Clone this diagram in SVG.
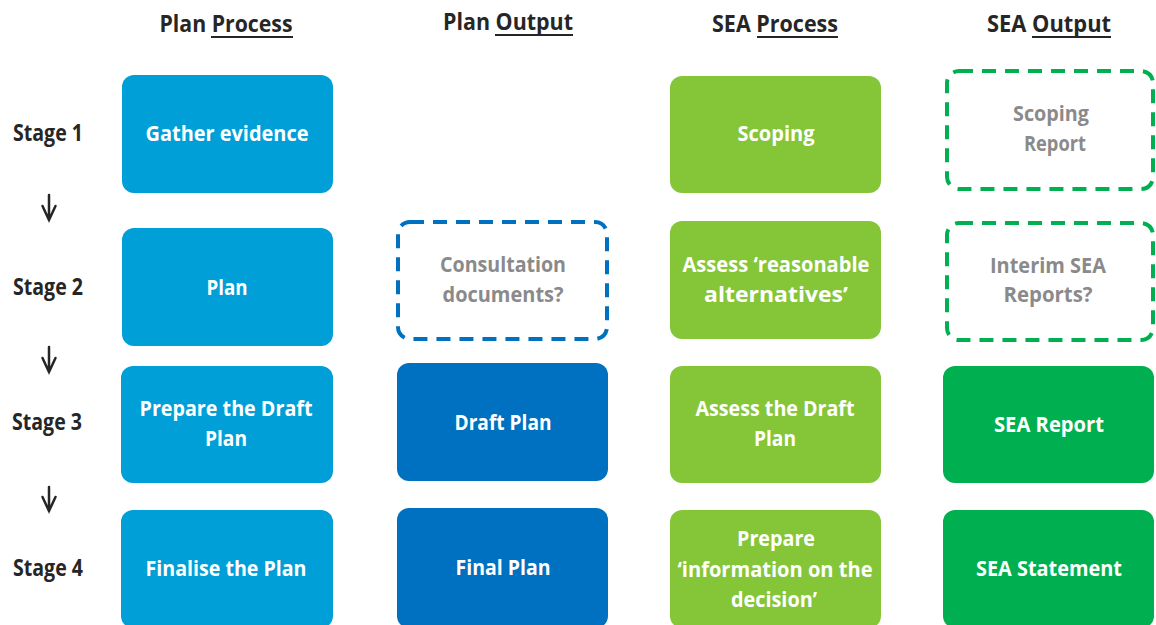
<svg xmlns="http://www.w3.org/2000/svg" width="1156" height="625" viewBox="0 0 1156 625">
  <style>
    text { font-family: "Open Sans", "Liberation Sans", sans-serif; font-weight: bold; font-size: 22px; text-anchor: middle; font-variant-ligatures: none; }
    .hdr { fill: #262626; font-size: 23px; }
    .stage { fill: #262626; font-size: 23px; }
    .w { fill: #ffffff; }
    .g { fill: #8a8a8a; }
    .c1 { fill: #009fd7; }
    .c2 { fill: #0070c0; }
    .c3 { fill: #85c638; }
    .c4 { fill: #00b050; }
    .dashB { fill: #ffffff; stroke: #0070c0; stroke-width: 4; stroke-dasharray: 14 9; }
    .dashG { fill: #ffffff; stroke: #00b050; stroke-width: 4; stroke-dasharray: 14 9; }
    .ul { stroke: #262626; stroke-width: 2; }
    .arrow { fill: none; stroke: #262626; stroke-width: 2.5; stroke-linecap: round; stroke-linejoin: miter; }
  </style>

  <!-- column headings -->
  <g id="headings">
    <text class="hdr" x="226" y="32" textLength="133" lengthAdjust="spacingAndGlyphs">Plan Process</text>
    <line class="ul" x1="211" y1="37" x2="293" y2="37"/>
    <text class="hdr" x="508" y="30" textLength="130" lengthAdjust="spacingAndGlyphs">Plan Output</text>
    <line class="ul" x1="495" y1="35" x2="573" y2="35"/>
    <text class="hdr" x="775" y="32" textLength="126" lengthAdjust="spacingAndGlyphs">SEA Process</text>
    <line class="ul" x1="757" y1="37" x2="838" y2="37"/>
    <text class="hdr" x="1049" y="32" textLength="124" lengthAdjust="spacingAndGlyphs">SEA Output</text>
    <line class="ul" x1="1032" y1="37" x2="1111" y2="37"/>
  </g>

  <!-- stage labels -->
  <g id="stages">
    <text class="stage" x="48" y="141" textLength="70" lengthAdjust="spacingAndGlyphs">Stage 1</text>
    <text class="stage" x="48" y="295" textLength="70" lengthAdjust="spacingAndGlyphs">Stage 2</text>
    <text class="stage" x="47" y="430" textLength="70" lengthAdjust="spacingAndGlyphs">Stage 3</text>
    <text class="stage" x="48" y="576" textLength="70" lengthAdjust="spacingAndGlyphs">Stage 4</text>
  </g>

  <!-- stage-to-stage arrows -->
  <g id="connectors">
    <path class="arrow" d="M49 195 V220 M42.5 206 L49 220 L55.5 206"/>
    <path class="arrow" d="M49 347 V372 M42.5 358 L49 372 L55.5 358"/>
    <path class="arrow" d="M49 487 V511 M42.5 497 L49 511 L55.5 497"/>
  </g>

  <!-- Plan Process -->
  <g id="gather-evidence">
    <rect class="c1" x="122" y="75" width="211" height="118" rx="12"/>
    <text class="w" x="227" y="141" textLength="163" lengthAdjust="spacingAndGlyphs">Gather evidence</text>
  </g>
  <g id="plan">
    <rect class="c1" x="122" y="228" width="211" height="118" rx="12"/>
    <text class="w" x="227" y="295" textLength="41" lengthAdjust="spacingAndGlyphs">Plan</text>
  </g>
  <g id="prepare-draft-plan">
    <rect class="c1" x="121" y="366" width="212" height="117" rx="12"/>
    <text class="w" x="226" y="416" textLength="173" lengthAdjust="spacingAndGlyphs">Prepare the Draft</text>
    <text class="w" x="226" y="446" textLength="42" lengthAdjust="spacingAndGlyphs">Plan</text>
  </g>
  <g id="finalise-plan">
    <rect class="c1" x="121" y="510" width="212" height="118" rx="12"/>
    <text class="w" x="226" y="576" textLength="161" lengthAdjust="spacingAndGlyphs">Finalise the Plan</text>
  </g>

  <!-- Plan Output -->
  <g id="consultation-documents">
    <rect class="dashB" x="398" y="222" width="209" height="117" rx="12"/>
    <text class="g" x="503" y="272" textLength="126" lengthAdjust="spacingAndGlyphs">Consultation</text>
    <text class="g" x="503" y="302" textLength="121" lengthAdjust="spacingAndGlyphs">documents?</text>
  </g>
  <g id="draft-plan">
    <rect class="c2" x="397" y="363" width="211" height="118" rx="12"/>
    <text class="w" x="503" y="430" textLength="97" lengthAdjust="spacingAndGlyphs">Draft Plan</text>
  </g>
  <g id="final-plan">
    <rect class="c2" x="397" y="508" width="211" height="120" rx="12"/>
    <text class="w" x="503" y="575" textLength="95" lengthAdjust="spacingAndGlyphs">Final Plan</text>
  </g>

  <!-- SEA Process -->
  <g id="scoping">
    <rect class="c3" x="670" y="76" width="211" height="117" rx="12"/>
    <text class="w" x="776" y="141" textLength="77" lengthAdjust="spacingAndGlyphs">Scoping</text>
  </g>
  <g id="assess-alternatives">
    <rect class="c3" x="670" y="221" width="211" height="118" rx="12"/>
    <text class="w" x="776" y="272" textLength="187" lengthAdjust="spacingAndGlyphs">Assess ‘reasonable</text>
    <text class="w" x="776" y="302" textLength="144" lengthAdjust="spacingAndGlyphs">alternatives’</text>
  </g>
  <g id="assess-draft-plan">
    <rect class="c3" x="670" y="366" width="211" height="117" rx="12"/>
    <text class="w" x="775" y="416" textLength="159" lengthAdjust="spacingAndGlyphs">Assess the Draft</text>
    <text class="w" x="775" y="446" textLength="42" lengthAdjust="spacingAndGlyphs">Plan</text>
  </g>
  <g id="information-on-decision">
    <rect class="c3" x="670" y="510" width="211" height="118" rx="12"/>
    <text class="w" x="776" y="546" textLength="78" lengthAdjust="spacingAndGlyphs">Prepare</text>
    <text class="w" x="775" y="577" textLength="195" lengthAdjust="spacingAndGlyphs">‘information on the</text>
    <text class="w" x="774" y="607" textLength="86" lengthAdjust="spacingAndGlyphs">decision’</text>
  </g>

  <!-- SEA Output -->
  <g id="scoping-report">
    <rect class="dashG" x="947" y="71" width="206" height="118" rx="12"/>
    <text class="g" x="1051" y="121" textLength="76" lengthAdjust="spacingAndGlyphs">Scoping</text>
    <text class="g" x="1055" y="151" textLength="62" lengthAdjust="spacingAndGlyphs">Report</text>
  </g>
  <g id="interim-sea-reports">
    <rect class="dashG" x="947" y="223" width="206" height="117" rx="12"/>
    <text class="g" x="1048" y="273" textLength="116" lengthAdjust="spacingAndGlyphs">Interim SEA</text>
    <text class="g" x="1048" y="302" textLength="89" lengthAdjust="spacingAndGlyphs">Reports?</text>
  </g>
  <g id="sea-report">
    <rect class="c4" x="943" y="366" width="211" height="117" rx="12"/>
    <text class="w" x="1049" y="432" textLength="110" lengthAdjust="spacingAndGlyphs">SEA Report</text>
  </g>
  <g id="sea-statement">
    <rect class="c4" x="943" y="510" width="211" height="118" rx="12"/>
    <text class="w" x="1049" y="576" textLength="146" lengthAdjust="spacingAndGlyphs">SEA Statement</text>
  </g>
</svg>
